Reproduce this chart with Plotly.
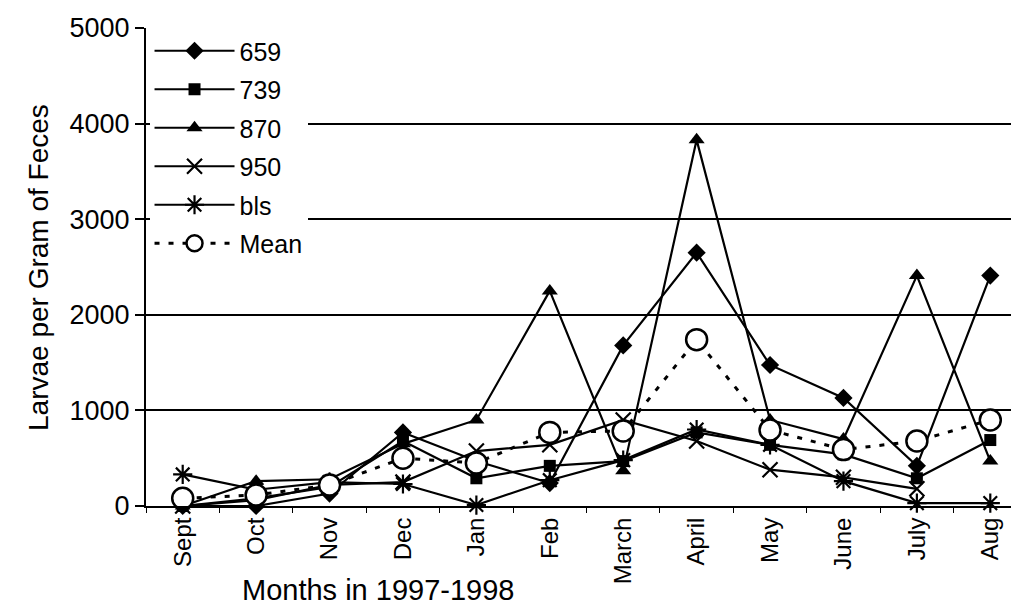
import plotly.graph_objects as go

months = ["Sept", "Oct", "Nov", "Dec", "Jan", "Feb", "March", "April", "May", "June", "July", "Aug"]
s659 = [0, 0, 130, 770, 470, 240, 1680, 2650, 1475, 1130, 420, 2410]
s739 = [0, 80, 200, 680, 290, 420, 470, 770, 640, 540, 290, 690]
s870 = [0, 260, 280, 650, 900, 2250, 370, 3830, 900, 700, 2410, 470]
s950 = [0, 60, 220, 250, 575, 640, 900, 680, 380, 300, 180, None]
sbls = [330, 170, 250, 230, 10, 270, 480, 800, 640, 260, 30, 30]
smean = [80, 115, 220, 500, 450, 770, 785, 1740, 795, 590, 680, 900]

series = [
    ("659", s659, "diamond", 14),
    ("739", s739, "square", 12),
    ("870", s870, "triangle-up", 14),
    ("950", s950, "x-thin-open", 15),
    ("bls", sbls, "asterisk-open", 16),
]

FONT = "Arial, Liberation Sans, sans-serif"
fig = go.Figure()
for i, (name, vals, sym, size) in enumerate(series):
    fig.add_trace(go.Scatter(
        x=months, y=vals, name=name, mode="lines+markers",
        line=dict(color="black", width=2.2),
        marker=dict(symbol=sym, size=size, color="black",
                    line=dict(color="black", width=2.2 if "open" in sym else 0)),
        cliponaxis=False, legendgroup=f"g{i}",
    ))
fig.add_trace(go.Scatter(
    x=months, y=smean, name="Mean", mode="lines+markers",
    line=dict(color="black", width=3, dash="5px,9px"),
    marker=dict(symbol="circle", size=21, color="white",
                line=dict(color="black", width=2.5)),
    cliponaxis=False, legendgroup="g5",
))

W, H = 1019, 604
L, R, T, B = 138, 0, 20, 106
fig.update_layout(
    width=W, height=H,
    margin=dict(l=L, r=R, t=T, b=B),
    paper_bgcolor="white", plot_bgcolor="white",
    font=dict(family=FONT, color="black", size=24),
    showlegend=True,
    legend=dict(x=0.004, y=1.0, xanchor="left", yanchor="top",
                bgcolor="white", borderwidth=0,
                font=dict(size=25, family=FONT),
                itemwidth=80, tracegroupgap=3),
    xaxis=dict(
        range=[-0.5, 11.5], type="category",
        showline=True, linecolor="black", linewidth=2,
        ticks="outside", ticklen=5, tickwidth=1, tickcolor="black",
        tickson="boundaries", tickangle=-90,
        tickfont=dict(size=24, family=FONT),
        showgrid=False, zeroline=False,
    ),
    yaxis=dict(
        range=[0, 5000], tickvals=[0, 1000, 2000, 3000, 4000, 5000],
        showline=True, linecolor="black", linewidth=2,
        ticks="outside", ticklen=9, tickwidth=1.5, tickcolor="black",
        tickfont=dict(size=27, family=FONT),
        showgrid=True, gridcolor="black", gridwidth=2,
        zeroline=False,
    ),
    annotations=[
        dict(text="Months in 1997-1998", xref="paper", yref="paper",
             x=(370 - L) / (W - L - R), y=(H - B - 582) / (H - T - B),
             xanchor="center", yanchor="middle", showarrow=False,
             font=dict(size=29, family=FONT)),
        dict(text="Larvae per Gram of Feces", xref="paper", yref="paper",
             x=(30 - L) / (W - L - R), y=(H - B - 260) / (H - T - B),
             xanchor="center", yanchor="middle", showarrow=False, textangle=-90,
             font=dict(size=28, family=FONT)),
    ],
)
fig.write_html("out.html")
